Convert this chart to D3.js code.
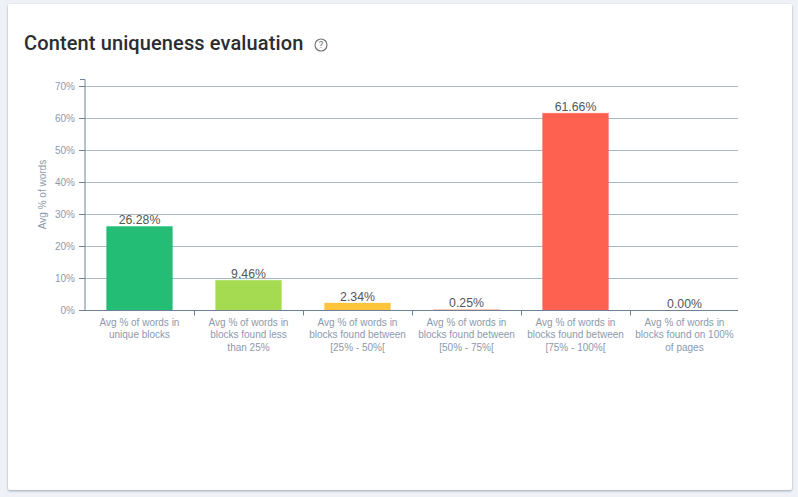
<!DOCTYPE html>
<html>
<head>
<meta charset="utf-8">
<script src="https://cdn.jsdelivr.net/npm/d3@7"></script>
<style>
html, body { margin: 0; padding: 0; background: #eef1f6; }
svg { display: block; }
</style>
</head>
<body>
<script>
var categories = [
    ["Avg % of words in", "unique blocks"],
    ["Avg % of words in", "blocks found less", "than 25%"],
    ["Avg % of words in", "blocks found between", "[25% - 50%["],
    ["Avg % of words in", "blocks found between", "[50% - 75%["],
    ["Avg % of words in", "blocks found between", "[75% - 100%["],
    ["Avg % of words in", "blocks found on 100%", "of pages"]
];
var values = [26.28, 9.46, 2.34, 0.25, 61.66, 0.00];
var colors = ["#23bd76", "#a5db50", "#fdc43c", "#fd8c50", "#ff6151", "#ff6151"];
var yTicks = [0, 10, 20, 30, 40, 50, 60, 70];

var svg = d3.select("body").append("svg")
    .attr("width", 798)
    .attr("height", 497);

var defs = svg.append("defs");
defs.append("filter").attr("id", "cardShadow")
    .attr("x", "-2%").attr("y", "-2%").attr("width", "104%").attr("height", "104%")
    .append("feDropShadow")
    .attr("dx", 0).attr("dy", 1).attr("stdDeviation", 1)
    .attr("flood-color", "#5a6472").attr("flood-opacity", 0.55);

// card
svg.append("rect")
    .attr("x", 8).attr("y", 4)
    .attr("width", 784).attr("height", 486)
    .attr("rx", 2)
    .attr("fill", "#fff")
    .attr("filter", "url(#cardShadow)");

svg.append("text")
    .attr("x", 24).attr("y", 50)
    .attr("font-family", "Roboto")
    .attr("font-weight", 500)
    .attr("font-size", 20)
    .attr("letter-spacing", 0.12)
    .attr("fill", "#2a2d31")
    .text("Content uniqueness evaluation");

// help icon
var help = svg.append("g").attr("transform", "translate(321,45)");
help.append("circle").attr("r", 6).attr("fill", "none").attr("stroke", "#6b6f74").attr("stroke-width", 1.1);
help.append("text")
    .attr("text-anchor", "middle").attr("y", 3.4)
    .attr("font-family", "Roboto").attr("font-size", 9.5).attr("fill", "#6b6f74")
    .text("?");

var x = d3.scaleBand()
    .domain(d3.range(categories.length))
    .range([85, 739])
    .paddingInner(0.395)
    .paddingOuter(0.1975);

var y = d3.scaleLinear()
    .domain([0, 70])
    .range([310.5, 86.5]);

var yTop = y(72.2);
var xEnd = 738;
var axisColor = "#6d7f99";
var labelColor = "#8d99ac";

// grid
svg.append("g").selectAll("line")
    .data(yTicks.slice(1))
    .enter()
    .append("line")
    .attr("x1", 85).attr("x2", xEnd)
    .attr("y1", function(d) { return y(d); })
    .attr("y2", function(d) { return y(d); })
    .attr("stroke", "#a9b6c6")
    .attr("stroke-width", 1);

// bars
svg.append("g").selectAll("rect")
    .data(values)
    .enter()
    .append("rect")
    .attr("x", function(d, i) { return x(i); })
    .attr("y", function(d) { return y(d); })
    .attr("width", x.bandwidth())
    .attr("height", function(d) { return y(0) - y(d); })
    .attr("fill", function(d, i) { return colors[i]; })
    .attr("stroke", function(d, i) { return colors[i]; })
    .attr("stroke-opacity", 0.3)
    .attr("stroke-width", 1);

// value labels
svg.append("g").selectAll("text")
    .data(values)
    .enter()
    .append("text")
    .attr("x", function(d, i) { return x(i) + x.bandwidth() / 2; })
    .attr("y", function(d) { return y(d) - 2.5; })
    .attr("text-anchor", "middle")
    .attr("font-family", "Liberation Sans")
    .attr("font-size", 12.3)
    .attr("fill", "#555555")
    .text(function(d) { return d.toFixed(2) + "%"; });

// y axis
var yAxis = svg.append("g").attr("transform", "translate(85,0)");
yAxis.append("path")
    .attr("d", "M-5," + yTop + "H0V" + y(0))
    .attr("fill", "none")
    .attr("stroke", axisColor);
var yTick = yAxis.selectAll("g")
    .data(yTicks)
    .enter()
    .append("g");
yTick.append("line")
    .attr("x1", -6).attr("x2", 0)
    .attr("y1", function(d) { return y(d); })
    .attr("y2", function(d) { return y(d); })
    .attr("stroke", axisColor);
yTick.append("text")
    .attr("x", -10)
    .attr("y", function(d) { return y(d) + 3.5; })
    .attr("text-anchor", "end")
    .attr("font-family", "Liberation Sans")
    .attr("font-size", 10)
    .attr("fill", labelColor)
    .text(function(d) { return d + "%"; });

svg.append("text")
    .attr("transform", "translate(46,194.5) rotate(-90)")
    .attr("text-anchor", "middle")
    .attr("font-family", "Liberation Sans")
    .attr("font-size", 10)
    .attr("fill", labelColor)
    .text("Avg % of words");

// x axis
var xAxis = svg.append("g");
xAxis.append("line")
    .attr("x1", 80).attr("x2", xEnd)
    .attr("y1", y(0)).attr("y2", y(0))
    .attr("stroke", axisColor);
xAxis.selectAll("line.tick")
    .data(d3.range(1, categories.length))
    .enter()
    .append("line")
    .attr("class", "tick")
    .attr("x1", function(d) { return x.step() * d + 85.5; })
    .attr("x2", function(d) { return x.step() * d + 85.5; })
    .attr("y1", y(0)).attr("y2", y(0) + 5)
    .attr("stroke", axisColor);

var xLabel = xAxis.selectAll("text.cat")
    .data(categories)
    .enter()
    .append("text")
    .attr("class", "cat")
    .attr("text-anchor", "middle")
    .attr("font-family", "Liberation Sans")
    .attr("font-size", 10)
    .attr("fill", labelColor);
xLabel.selectAll("tspan")
    .data(function(d, i) {
        return d.map(function(line, n) { return { line: line, n: n, i: i }; });
    })
    .enter()
    .append("tspan")
    .attr("x", function(d) { return x(d.i) + x.bandwidth() / 2; })
    .attr("y", function(d) { return 326 + d.n * 12.4; })
    .text(function(d) { return d.line; });
</script>
</body>
</html>
